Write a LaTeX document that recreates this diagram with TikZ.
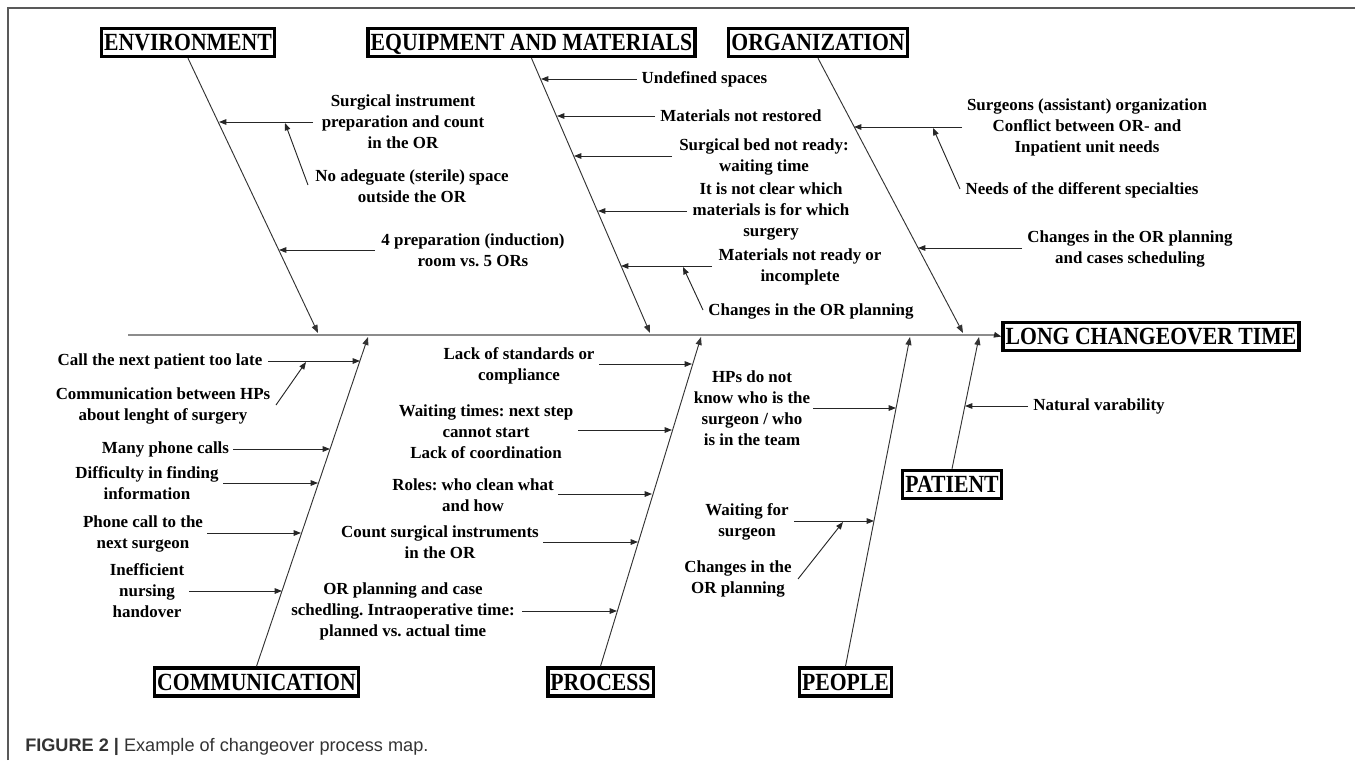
\documentclass[tikz,border=0pt]{standalone}
\usepackage{fontspec}
\setmainfont{Liberation Serif}
\newfontfamily\capfont{Liberation Sans}
\usetikzlibrary{arrows.meta,calc}
\newcommand{\cattxt}[1]{\scalebox{0.88}[1]{#1}}
\begin{document}
\frenchspacing
\begin{tikzpicture}[x=0.75pt,y=-0.75pt,
  catbox/.style={draw=black,line width=2.6pt,fill=white,inner xsep=2pt,inner ysep=0pt,
    minimum height=21pt,text height=13pt,text depth=0.5pt,font=\fontsize{18.5}{20}\selectfont\bfseries},
  lbl/.style={align=center,inner sep=0pt,font=\fontsize{12.7}{15.75}\selectfont\bfseries},
  bone/.style={draw=black!80,line width=0.7pt,-{Triangle[length=6pt,width=4.5pt]}},
  cause/.style={draw=black!85,line width=0.7pt,-{Triangle[length=5.5pt,width=4.2pt]}},
  spine/.style={draw=black!45,line width=1.2pt},
  framel/.style={draw=black!65,line width=1pt}
]
\useasboundingbox (0,0) rectangle (1355,760);
% frame
\coordinate (fa) at (8,760);
\coordinate (fb) at (8,8);
\coordinate (fc) at (1355,8);
\draw[framel] (fa) -- (fb) -- (fc);

% category boxes
\node[catbox] (env) at (188,42.5) {\cattxt{ENVIRONMENT}};
\node[catbox] (equ) at (531.5,42.5) {\cattxt{EQUIPMENT AND MATERIALS}};
\node[catbox] (org) at (818,42.5) {\cattxt{ORGANIZATION}};
\node[catbox] (lct) at (1151,336.5) {\cattxt{LONG CHANGEOVER TIME}};
\node[catbox] (com) at (256.5,682) {\cattxt{COMMUNICATION}};
\node[catbox] (pro) at (600.5,682) {\cattxt{PROCESS}};
\node[catbox] (peo) at (845.5,682) {\cattxt{PEOPLE}};
\node[catbox] (pat) at (952,484.5) {\cattxt{PATIENT}};

% spine
\coordinate (spS) at (128,335);
\coordinate (spE) at (995,335);
\draw[spine] (spS) -- (spE);
\draw[cause] (spE) -- (lct.west);

% bones
\coordinate (envE) at (318,333);
\coordinate (equE) at (650,333);
\coordinate (orgE) at (963,333);
\coordinate (comE) at (368,337);
\coordinate (proE) at (701,337);
\coordinate (peoE) at (910,337);
\coordinate (patE) at (979,337);
\draw[bone] (env.south) -- (envE);
\draw[bone] (equ.south) -- (equE);
\draw[bone] (org.south) -- (orgE);
\draw[bone] (com.north) -- (comE);
\draw[bone] (pro.north) -- (proE);
\draw[bone] (peo.north) -- (peoE);
\draw[bone] (pat.north) -- (patE);

% ENVIRONMENT causes
\node[lbl] (e1) at (403,121.5) {Surgical instrument\\preparation and count\\in the OR};
\node[lbl] (e2) at (412,186) {No adeguate (sterile) space\\outside the OR};
\node[lbl] (e3) at (473,250.5) {4 preparation (induction)\\room vs. 5 ORs};
\coordinate (e1s) at (313,122); \coordinate (e1t) at (219,122);
\coordinate (e2s) at (308,185); \coordinate (e2t) at (285,123);
\coordinate (e3s) at (375,250); \coordinate (e3t) at (279,250);
\draw[cause] (e1s) -- (e1t);
\draw[cause] (e2s) -- (e2t);
\draw[cause] (e3s) -- (e3t);

% EQUIPMENT causes
\node[lbl] (q1) at (704.5,79) {Undefined spaces};
\node[lbl] (q2) at (741,116) {Materials not restored};
\node[lbl] (q3) at (764,156.5) {Surgical bed not ready:\\waiting time};
\node[lbl] (q4) at (771,211) {It is not clear which\\materials is for which\\surgery};
\node[lbl] (q5) at (800,266.5) {Materials not ready or\\incomplete};
\node[lbl] (q6) at (811,311) {Changes in the OR planning};
\coordinate (q1s) at (637,79);  \coordinate (q1t) at (541,79);
\coordinate (q2s) at (655,116); \coordinate (q2t) at (557,116);
\coordinate (q3s) at (672,156); \coordinate (q3t) at (574,156);
\coordinate (q4s) at (687,211); \coordinate (q4t) at (598,211);
\coordinate (q5s) at (712,266); \coordinate (q5t) at (621,266);
\coordinate (q6s) at (703,310); \coordinate (q6t) at (683,267);
\draw[cause] (q1s) -- (q1t);
\draw[cause] (q2s) -- (q2t);
\draw[cause] (q3s) -- (q3t);
\draw[cause] (q4s) -- (q4t);
\draw[cause] (q5s) -- (q5t);
\draw[cause] (q6s) -- (q6t);

% ORGANIZATION causes
\node[lbl] (o1) at (1087,127.5) {Surgeons (assistant) organization\\Conflict between OR- and\\Inpatient unit needs};
\node[lbl] (o2) at (1082,190) {Needs of the different specialties};
\node[lbl] (o3) at (1130,249) {Changes in the OR planning\\and cases scheduling};
\coordinate (o1s) at (962,127);  \coordinate (o1t) at (854,127);
\coordinate (o2s) at (960,189);  \coordinate (o2t) at (933,128);
\coordinate (o3s) at (1022,248); \coordinate (o3t) at (918,248);
\draw[cause] (o1s) -- (o1t);
\draw[cause] (o2s) -- (o2t);
\draw[cause] (o3s) -- (o3t);

% COMMUNICATION causes
\node[lbl] (c1) at (160,361) {Call the next patient too late};
\node[lbl] (c2) at (163,405.5) {Communication between HPs\\about lenght of surgery};
\node[lbl] (c3) at (165.5,449) {Many phone calls};
\node[lbl] (c4) at (147,483.5) {Difficulty in finding\\information};
\node[lbl] (c5) at (143,533.5) {Phone call to the\\next surgeon};
\node[lbl] (c6) at (147,591) {Inefficient\\nursing\\handover};
\coordinate (c1s) at (268,361); \coordinate (c1t) at (360,361);
\coordinate (c2s) at (276,405); \coordinate (c2t) at (306,362);
\coordinate (c3s) at (233,449); \coordinate (c3t) at (330,449);
\coordinate (c4s) at (223,483); \coordinate (c4t) at (318,483);
\coordinate (c5s) at (207,533); \coordinate (c5t) at (301,533);
\coordinate (c6s) at (189,591); \coordinate (c6t) at (282,591);
\draw[cause] (c1s) -- (c1t);
\draw[cause] (c2s) -- (c2t);
\draw[cause] (c3s) -- (c3t);
\draw[cause] (c4s) -- (c4t);
\draw[cause] (c5s) -- (c5t);
\draw[cause] (c6s) -- (c6t);

% PROCESS causes
\node[lbl] (p1) at (519,365.5) {Lack of standards or\\compliance};
\node[lbl] (p2) at (486,431.5) {Waiting times: next step\\cannot start\\Lack of coordination};
\node[lbl] (p3) at (473,495) {Roles: who clean what\\and how};
\node[lbl] (p4) at (440,542.5) {Count surgical instruments\\in the OR};
\node[lbl] (p5) at (403,611.5) {OR planning and case\\schedling. Intraoperative time:\\planned vs. actual time};
\coordinate (p1s) at (599,364); \coordinate (p1t) at (692,364);
\coordinate (p2s) at (578,430); \coordinate (p2t) at (672,430);
\coordinate (p3s) at (558,494); \coordinate (p3t) at (652,494);
\coordinate (p4s) at (543,542); \coordinate (p4t) at (638,542);
\coordinate (p5s) at (522,611); \coordinate (p5t) at (617,611);
\draw[cause] (p1s) -- (p1t);
\draw[cause] (p2s) -- (p2t);
\draw[cause] (p3s) -- (p3t);
\draw[cause] (p4s) -- (p4t);
\draw[cause] (p5s) -- (p5t);

% PEOPLE causes
\node[lbl] (h1) at (752,408) {HPs do not\\know who is the\\surgeon / who\\is in the team};
\node[lbl] (h2) at (747,521.5) {Waiting for\\surgeon};
\node[lbl] (h3) at (738,578.5) {Changes in the\\OR planning};
\coordinate (h1s) at (813,408); \coordinate (h1t) at (896,408);
\coordinate (h2s) at (794,521); \coordinate (h2t) at (874,521);
\coordinate (h3s) at (798,579); \coordinate (h3t) at (843,522);
\draw[cause] (h1s) -- (h1t);
\draw[cause] (h2s) -- (h2t);
\draw[cause] (h3s) -- (h3t);

% PATIENT cause
\node[lbl] (t1) at (1099,406) {Natural varability};
\coordinate (t1s) at (1028,406); \coordinate (t1t) at (965,406);
\draw[cause] (t1s) -- (t1t);

% caption
\node[anchor=base west,inner sep=0pt,text=black!80,font=\capfont\fontsize{13.6}{15}\selectfont] (cap) at (25,751)
  {\textbf{FIGURE 2 |} Example of changeover process map.};
\end{tikzpicture}
\end{document}
